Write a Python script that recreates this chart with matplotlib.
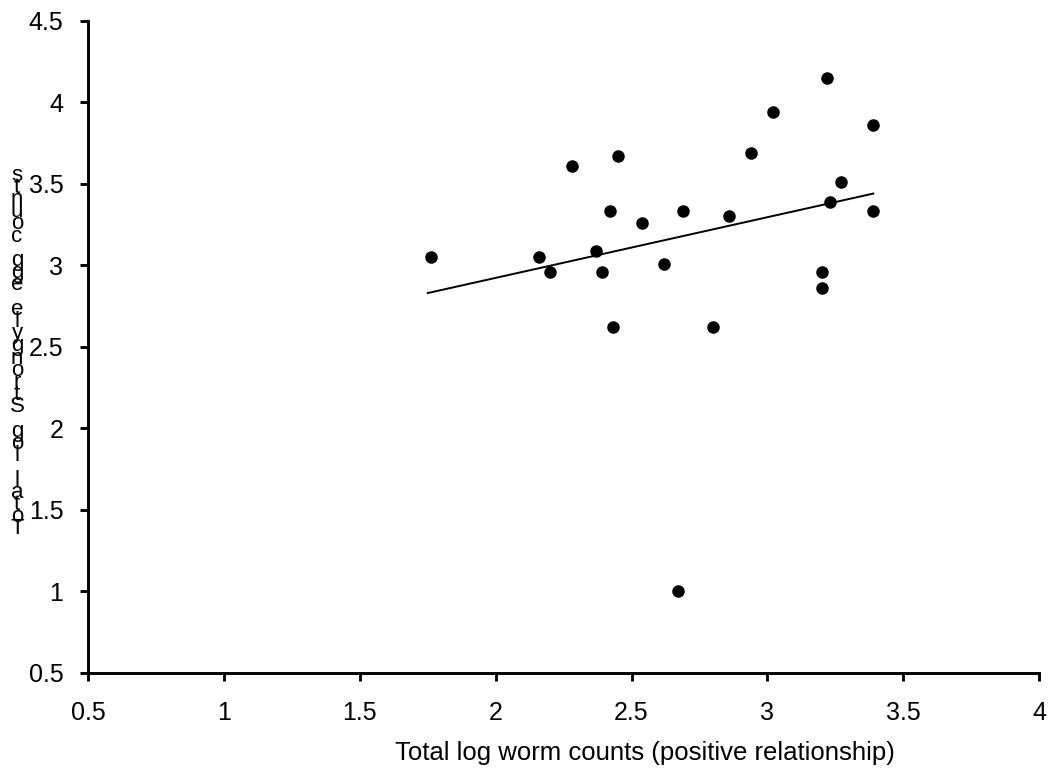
import matplotlib
matplotlib.use("Agg")
import matplotlib.pyplot as plt

# worm counts vs egg counts
worm_log = [1.76, 2.16, 2.20, 2.28, 2.37, 2.39, 2.42, 2.45, 2.43, 2.54, 2.62,
            2.69, 2.67, 2.80, 2.86, 2.94, 3.02, 3.22, 3.20, 3.20, 3.23, 3.27,
            3.39, 3.39]
egg_log = [3.05, 3.05, 2.96, 3.61, 3.09, 2.96, 3.33, 3.67, 2.62, 3.26, 3.01,
           3.33, 1.00, 2.62, 3.30, 3.69, 3.94, 4.15, 2.96, 2.86, 3.39, 3.51,
           3.86, 3.33]

trend_x = [1.75, 3.39]
trend_y = [2.83, 3.44]

xticks = [0.5, 1, 1.5, 2, 2.5, 3, 3.5, 4]
yticks = [0.5, 1, 1.5, 2, 2.5, 3, 3.5, 4, 4.5]
xlabel = "Total log worm counts (positive relationship)"
ylabel = "Total log Strongyle egg counts"

plt.rcParams['font.family'] = ['Liberation Sans', 'DejaVu Sans']

fig = plt.figure(figsize=(10.53, 7.74), dpi=100)
ax = fig.add_axes([88.3 / 1053, 1 - 673 / 774, (1039 - 88.3) / 1053, (673 - 20.7) / 774])

ax.plot(worm_log, egg_log, 'o', color='black', markersize=8, linestyle='none')
ax.plot(trend_x, trend_y, color='black', lw=1.4)

ax.set_xlim(0.5, 4)
ax.set_ylim(0.5, 4.5)
ax.set_xticks(xticks)
ax.set_xticklabels([f"{t:g}" for t in xticks])
ax.set_yticks(yticks)
ax.set_yticklabels([f"{t:g}" for t in yticks])

for side in ['top', 'right']:
    ax.spines[side].set_visible(False)
for side in ['left', 'bottom']:
    ax.spines[side].set_linewidth(2.1)
ax.tick_params(direction='out', length=6, width=2.1, labelsize=18, pad=12)
ax.tick_params(axis='x', pad=14)

# label sits right of centre in the original
ax.text(0.5856, 1 - (753 - 20.7) / (673 - 20.7), xlabel, transform=ax.transAxes,
        fontsize=18.5, ha='center', va='center')

# the y label in the original is stacked letter by letter, bottom to top
stacked = "\n".join(reversed(ylabel))
fig.text(17 / 1053, 1 - 352 / 774, stacked, fontsize=16, ha='center', va='center',
         linespacing=0.45)

fig.savefig("out.png", dpi=100)
